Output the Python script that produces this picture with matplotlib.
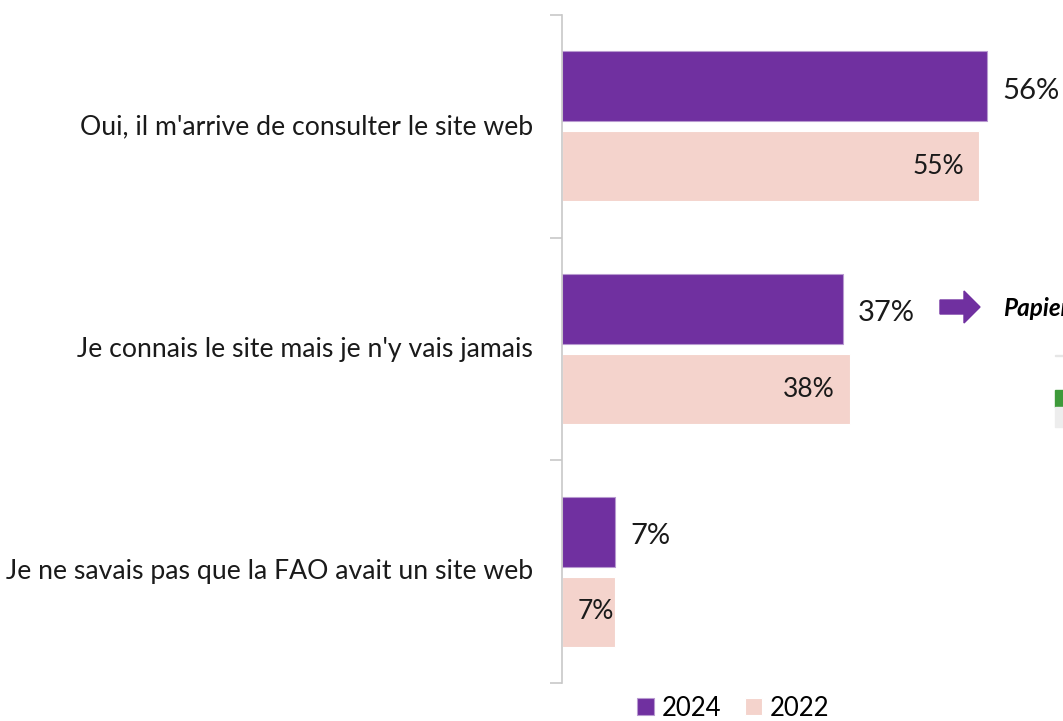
import matplotlib.pyplot as plt
from matplotlib.patches import FancyArrow, Rectangle

plt.rcParams["font.family"] = ["Lato", "DejaVu Sans"]

# ---- data ----
categories = [
    "Oui, il m'arrive de consulter le site web",
    "Je connais le site mais je n'y vais jamais",
    "Je ne savais pas que la FAO avait un site web",
]
values_2024 = [56, 37, 7]
values_2022 = [55, 38, 7]
series_names = ["2024", "2022"]

PURPLE = "#7030A0"
PINK = "#F4D3CC"
GREY = "#C8C8C8"

W, H = 1063, 721
fig = plt.figure(figsize=(W / 100, H / 100), dpi=100)
ax = fig.add_axes([562 / W, 1 - 683 / H, 455 / W, 668 / H])

ypos = list(range(len(categories)))
off, bh = 0.18, 0.315
ax.barh([y - off for y in ypos], values_2024, height=bh, color=PURPLE,
        edgecolor="#B89AD0", linewidth=0.8, label=series_names[0])
ax.barh([y + off for y in ypos], values_2022, height=bh, color=PINK,
        edgecolor="white", linewidth=0.8, label=series_names[1])

ax.set_xlim(0, 60)
ax.set_ylim(2.5, -0.5)

# valeurs
for y, v in zip(ypos, values_2024):
    ax.text(v + 2.0, y - off + 0.02, f"{v}%", va="center", ha="left", fontsize=21,
            color="#1a1a1a", clip_on=False)
for y, v in zip(ypos, values_2022):
    if v < 10:  # barre trop courte : étiquette calée à gauche
        ax.text(2.0, y + off, f"{v}%", va="center", ha="left", fontsize=19,
                color="#1a1a1a")
    else:
        ax.text(v - 2.0, y + off, f"{v}%", va="center", ha="right", fontsize=19,
                color="#1a1a1a")

# axe des catégories
for s in ["top", "right", "bottom"]:
    ax.spines[s].set_visible(False)
ax.spines["left"].set_color(GREY)
ax.spines["left"].set_linewidth(1.2)
ax.set_xticks([])
ax.set_yticks([-0.5, 0.5, 1.5, 2.5])
ax.set_yticklabels([])
ax.tick_params(axis="y", length=9, width=1.2, color=GREY)
for y, c in zip(ypos, categories):
    ax.text(-3.8, y, c, ha="right", va="center", fontsize=19.2, color="#1a1a1a")

# flèche + texte coupé à droite
fig.patches.append(FancyArrow(940 / W, 1 - 307 / H, 24 / W, 0, width=14 / H,
                              head_width=32 / H, head_length=16 / W,
                              length_includes_head=False, color=PURPLE,
                              transform=fig.transFigure))
fig.text(1003 / W, 1 - 309 / H, "Papier", fontsize=17.5, fontweight="bold",
         fontstyle="italic", va="center", ha="left", color="black")
fig.patches.append(Rectangle((1055 / W, 1 - 356 / H), 10 / W, 1 / H,
                             color="#E6E6E6", transform=fig.transFigure))
fig.patches.append(Rectangle((1055 / W, 1 - 407 / H), 10 / W, 17 / H,
                             color="#3E9A3A", transform=fig.transFigure))
fig.patches.append(Rectangle((1055 / W, 1 - 427 / H), 10 / W, 20 / H,
                             color="#EDEDED", transform=fig.transFigure))

# légende
leg = fig.legend(loc="center", bbox_to_anchor=(733 / W, 1 - 708 / H), ncol=2,
                 frameon=False, fontsize=18.5, handlelength=0.68, handleheight=0.68,
                 handletextpad=0.3, columnspacing=0.9, borderpad=0)

fig.savefig("out.png", dpi=100)
